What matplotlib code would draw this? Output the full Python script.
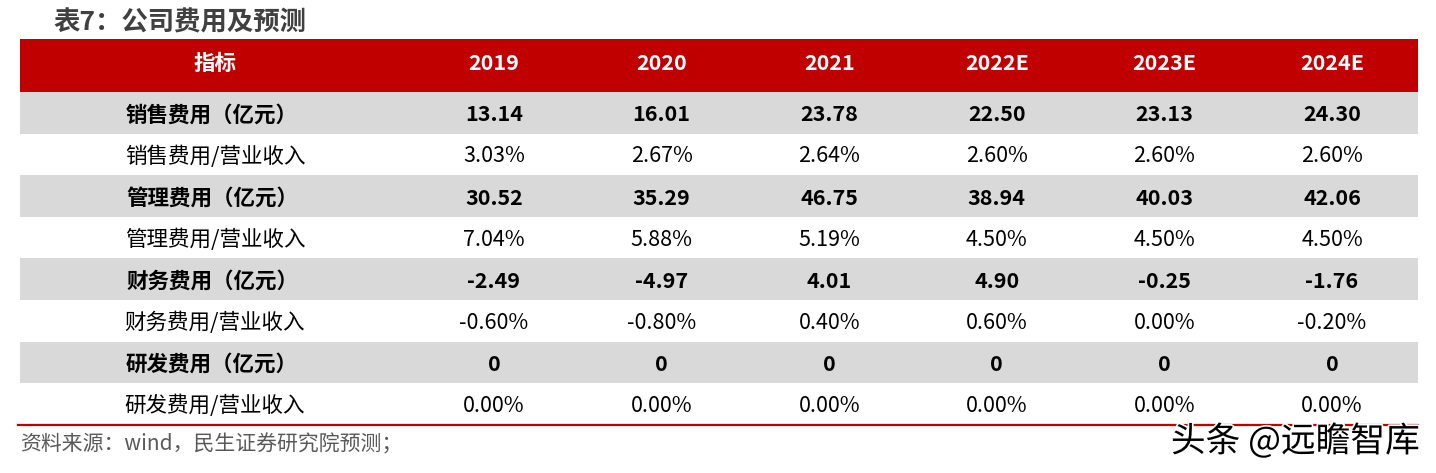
#!/usr/bin/env python3
"""
Table chart: company expenses and forecast.
"""
import matplotlib.pyplot as plt
import matplotlib.patheffects as pe
from matplotlib.patches import Rectangle

plt.rcParams['font.family'] = ['Noto Sans CJK SC', 'DejaVu Sans']

title = '表7：公司费用及预测'
source = '资料来源：wind，民生证券研究院预测；'
watermark = '头条 @远瞻智库'

header = ['指标', '2019', '2020', '2021', '2022E', '2023E', '2024E']
row_labels = ['销售费用（亿元）', '销售费用/营业收入',
              '管理费用（亿元）', '管理费用/营业收入',
              '财务费用（亿元）', '财务费用/营业收入',
              '研发费用（亿元）', '研发费用/营业收入']
sales = ['13.14', '16.01', '23.78', '22.50', '23.13', '24.30']
sales_pct = ['3.03%', '2.67%', '2.64%', '2.60%', '2.60%', '2.60%']
admin = ['30.52', '35.29', '46.75', '38.94', '40.03', '42.06']
admin_pct = ['7.04%', '5.88%', '5.19%', '4.50%', '4.50%', '4.50%']
finance = ['-2.49', '-4.97', '4.01', '4.90', '-0.25', '-1.76']
finance_pct = ['-0.60%', '-0.80%', '0.40%', '0.60%', '0.00%', '-0.20%']
rnd = ['0', '0', '0', '0', '0', '0']
rnd_pct = ['0.00%', '0.00%', '0.00%', '0.00%', '0.00%', '0.00%']


def table():
    rows = [sales, sales_pct, admin, admin_pct,
            finance, finance_pct, rnd, rnd_pct]
    red = '#C00000'
    gray = '#D9D9D9'

    fig = plt.figure(figsize=(14.36, 4.73), dpi=100)
    ax = fig.add_axes([0, 0, 1, 1])
    ax.set_xlim(0, 1436)
    ax.set_ylim(473, 0)
    ax.axis('off')

    left, right = 20, 1418
    top, head_h, row_h = 39, 53, 41.6
    label_x = 215
    col_x0, col_dx = 494, 167.6
    fs = 15.5

    ax.text(53, 23, title, fontsize=19, fontweight='bold',
            color='#404040', va='center', ha='left')

    # header
    ax.add_patch(Rectangle((left, top), right - left, head_h,
                           facecolor=red, edgecolor='none'))
    hy = top + head_h / 2 - 2
    ax.text(label_x, hy, header[0], fontsize=fs, fontweight='bold',
            color='white', ha='center', va='center')
    for j, h in enumerate(header[1:]):
        ax.text(col_x0 + j * col_dx, hy, h, fontsize=fs, fontweight='bold',
                color='white', ha='center', va='center')

    # body
    y = top + head_h
    for i, (lab, vals) in enumerate(zip(row_labels, rows)):
        bold = i % 2 == 0
        if bold:
            ax.add_patch(Rectangle((left, y), right - left, row_h,
                                   facecolor=gray, edgecolor='none'))
        cy = y + row_h / 2 + 2
        w = 'bold' if bold else 'normal'
        lx = label_x - 3 if bold else label_x
        ax.text(lx, cy, lab, fontsize=fs, fontweight=w,
                color='black', ha='center', va='center')
        for j, v in enumerate(vals):
            ax.text(col_x0 + j * col_dx, cy, v, fontsize=fs, fontweight=w,
                    color='black', ha='center', va='center')
        y += row_h

    ax.plot([18, right], [y, y], color=red, lw=1.6)

    ax.text(20, y + 20, source, fontsize=15, color='#595959',
            ha='left', va='center')

    ax.text(1420, y + 17, watermark, fontsize=25, color='black',
            ha='right', va='center', fontweight='light',
            path_effects=[pe.withStroke(linewidth=2.5, foreground='white')])

    fig.savefig('out.png', dpi=100)


table()
